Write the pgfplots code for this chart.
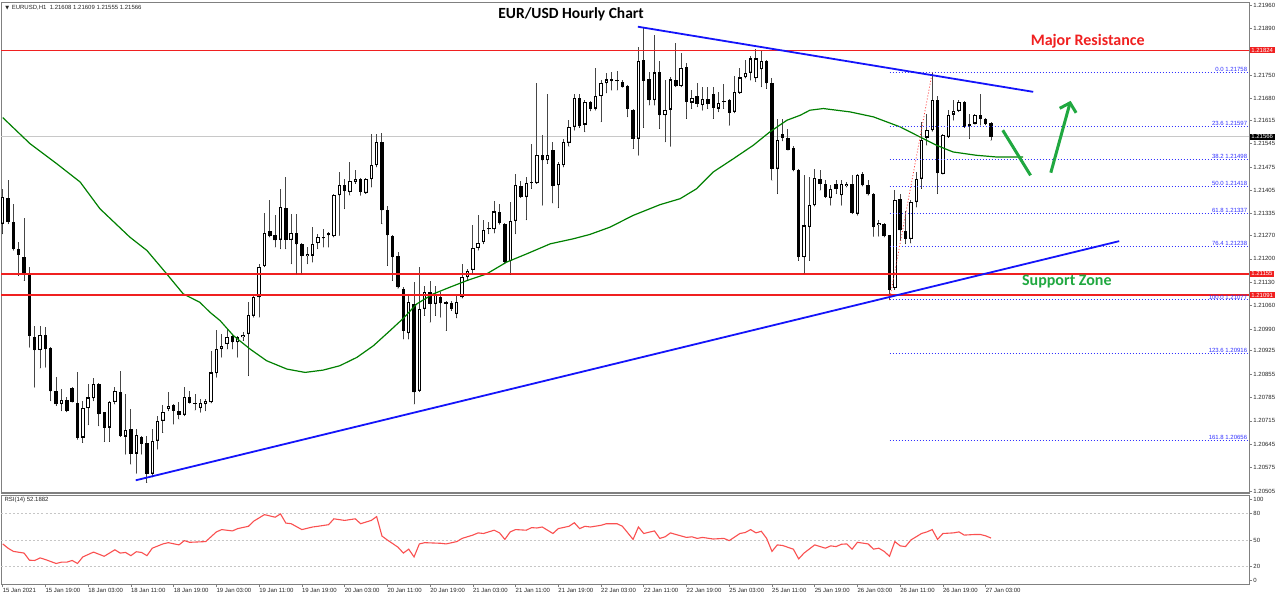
\documentclass[border=0pt]{standalone}
\usepackage{fontspec}
\setmainfont{Liberation Sans}
\newfontfamily\calibrifont{Carlito}
\newfontfamily\dejavu{DejaVu Sans}
\usepackage{pgfplots}
\pgfplotsset{compat=1.18}
\usepackage{pgfplotstable}
\usetikzlibrary{arrows.meta}

\definecolor{mtred}{RGB}{240,32,32}
\definecolor{trendblue}{RGB}{20,20,250}
\definecolor{fibblue}{RGB}{50,50,255}
\definecolor{magreen}{RGB}{0,128,0}
\definecolor{arrowgreen}{RGB}{32,168,64}
\definecolor{rsired}{RGB}{250,80,80}
\definecolor{framegray}{RGB}{128,128,128}
\definecolor{curgray}{RGB}{200,200,200}
\definecolor{wickgray}{RGB}{70,70,70}

\newcommand{\tinyfont}{\fontsize{6}{7}\selectfont}
\pgfplotsset{candle/.style={only marks, mark=*, mark size=0.01pt, mark options={draw=none, fill=none}, forget plot}}

\pgfplotstableread{
i o h l c
0 1.21305 1.21410 1.21275 1.21385
7 1.20927 1.21000 1.20873 1.20972
11 1.20765 1.20810 1.20745 1.20777
15 1.20665 1.20775 1.20650 1.20753
16 1.20752 1.20825 1.20703 1.20785
17 1.20782 1.20843 1.20775 1.20825
20 1.20695 1.20775 1.20653 1.20772
21 1.20772 1.20815 1.20765 1.20805
23 1.20668 1.20795 1.20615 1.20688
25 1.20617 1.20690 1.20558 1.20673
28 1.20557 1.20690 1.20547 1.20655
29 1.20655 1.20730 1.20630 1.20715
30 1.20715 1.20762 1.20680 1.20742
31 1.20750 1.20800 1.20745 1.20760
34 1.20733 1.20815 1.20730 1.20787
37 1.20753 1.20780 1.20740 1.20768
38 1.20765 1.20780 1.20745 1.20775
39 1.20770 1.20925 1.20768 1.20860
40 1.20857 1.20987 1.20845 1.20930
41 1.20930 1.20975 1.20905 1.20940
42 1.20945 1.20990 1.20930 1.20965
44 1.20950 1.20970 1.20905 1.20965
45 1.20965 1.20980 1.20955 1.20973
46 1.20975 1.21070 1.20850 1.21032
47 1.21030 1.21095 1.21025 1.21085
48 1.21085 1.21185 1.21025 1.21175
49 1.21178 1.21337 1.21176 1.21278
52 1.21257 1.21410 1.21230 1.21355
54 1.21257 1.21335 1.21185 1.21277
57 1.21208 1.21235 1.21185 1.21215
58 1.21210 1.21295 1.21190 1.21245
59 1.21247 1.21273 1.21230 1.21265
60 1.21261 1.21290 1.21235 1.21263
62 1.21267 1.21395 1.21265 1.21392
63 1.21390 1.21460 1.21270 1.21420
65 1.21400 1.21490 1.21390 1.21432
66 1.21430 1.21467 1.21425 1.21440
68 1.21398 1.21442 1.21395 1.21438
69 1.21438 1.21575 1.21415 1.21482
70 1.21480 1.21575 1.21475 1.21550
76 1.20977 1.21090 1.20960 1.21070
78 1.20805 1.21175 1.20802 1.21050
79 1.21050 1.21120 1.21030 1.21100
81 1.21065 1.21120 1.21030 1.21095
83 1.21066 1.21075 1.20985 1.21070
85 1.21035 1.21095 1.21023 1.21070
86 1.21085 1.21185 1.21082 1.21145
87 1.21145 1.21170 1.21135 1.21165
88 1.21167 1.21300 1.21155 1.21232
89 1.21233 1.21330 1.21225 1.21247
90 1.21250 1.21315 1.21245 1.21287
92 1.21288 1.21372 1.21277 1.21342
95 1.21193 1.21370 1.21153 1.21313
96 1.21313 1.21455 1.21275 1.21422
98 1.21385 1.21445 1.21317 1.21428
99 1.21427 1.21545 1.21410 1.21429
100 1.21427 1.21725 1.21425 1.21512
102 1.21495 1.21693 1.21485 1.21510
104 1.21420 1.21490 1.21353 1.21485
105 1.21480 1.21560 1.21475 1.21550
106 1.21548 1.21615 1.21537 1.21595
107 1.21595 1.21695 1.21585 1.21682
109 1.21602 1.21675 1.21580 1.21670
111 1.21650 1.21770 1.21645 1.21687
112 1.21687 1.21735 1.21610 1.21727
113 1.21725 1.21755 1.21697 1.21737
115 1.21732 1.21762 1.21705 1.21735
119 1.21560 1.21835 1.21510 1.21793
122 1.21675 1.21870 1.21660 1.21758
124 1.21630 1.21735 1.21550 1.21647
125 1.21647 1.21743 1.21537 1.21737
127 1.21717 1.21817 1.21715 1.21772
129 1.21668 1.21705 1.21650 1.21683
131 1.21660 1.21715 1.21645 1.21680
134 1.21650 1.21700 1.21640 1.21667
135 1.21670 1.21723 1.21650 1.21671
137 1.21640 1.21747 1.21637 1.21700
138 1.21697 1.21772 1.21695 1.21743
139 1.21743 1.21795 1.21741 1.21757
140 1.21757 1.21807 1.21735 1.21800
141 1.21740 1.21827 1.21730 1.21800
142 1.21767 1.21825 1.21715 1.21793
145 1.21470 1.21620 1.21395 1.21555
150 1.21205 1.21450 1.21155 1.21300
151 1.21295 1.21445 1.21195 1.21362
152 1.21360 1.21470 1.21358 1.21442
155 1.21383 1.21420 1.21360 1.21410
157 1.21390 1.21435 1.21360 1.21425
158 1.21418 1.21430 1.21415 1.21425
160 1.21335 1.21453 1.21330 1.21450
164 1.21300 1.21315 1.21267 1.21307
167 1.21112 1.21407 1.21108 1.21377
170 1.21260 1.21375 1.21247 1.21370
171 1.21370 1.21460 1.21355 1.21440
172 1.21440 1.21610 1.21410 1.21555
173 1.21563 1.21635 1.21540 1.21587
174 1.21585 1.21758 1.21582 1.21675
176 1.21455 1.21575 1.21453 1.21570
177 1.21565 1.21647 1.21563 1.21632
178 1.21632 1.21675 1.21615 1.21643
179 1.21643 1.21675 1.21640 1.21670
181 1.21597 1.21635 1.21560 1.21603
182 1.21605 1.21635 1.21603 1.21630
}\bull

\pgfplotstableread{
i o h l c
1 1.21383 1.21437 1.21305 1.21310
2 1.21310 1.21365 1.21225 1.21230
3 1.21228 1.21250 1.21150 1.21213
4 1.21205 1.21323 1.21135 1.21155
5 1.21155 1.21175 1.20935 1.20970
6 1.20967 1.21000 1.20815 1.20927
8 1.20972 1.20995 1.20875 1.20930
9 1.20932 1.20935 1.20775 1.20803
10 1.20803 1.20845 1.20760 1.20765
12 1.20777 1.20785 1.20742 1.20745
13 1.20812 1.20815 1.20770 1.20772
14 1.20767 1.20860 1.20660 1.20665
18 1.20825 1.20828 1.20700 1.20735
19 1.20740 1.20742 1.20653 1.20695
22 1.20802 1.20865 1.20668 1.20670
24 1.20690 1.20750 1.20585 1.20617
26 1.20667 1.20670 1.20615 1.20647
27 1.20650 1.20670 1.20530 1.20557
32 1.20762 1.20765 1.20705 1.20745
33 1.20745 1.20770 1.20720 1.20733
35 1.20787 1.20805 1.20767 1.20769
36 1.20767 1.20795 1.20747 1.20766
43 1.20970 1.20975 1.20930 1.20950
50 1.21283 1.21375 1.21265 1.21267
51 1.21270 1.21330 1.21235 1.21255
53 1.21353 1.21445 1.21230 1.21257
55 1.21277 1.21335 1.21155 1.21243
56 1.21245 1.21248 1.21155 1.21208
61 1.21277 1.21280 1.21235 1.21270
64 1.21420 1.21440 1.21350 1.21403
67 1.21440 1.21443 1.21390 1.21400
71 1.21550 1.21578 1.21305 1.21345
72 1.21347 1.21357 1.21180 1.21270
73 1.21268 1.21272 1.21135 1.21205
74 1.21210 1.21220 1.21112 1.21115
75 1.21110 1.21115 1.20960 1.20985
77 1.21065 1.21130 1.20765 1.20800
80 1.21100 1.21135 1.21010 1.21065
82 1.21087 1.21100 1.21025 1.21067
84 1.21067 1.21075 1.21045 1.21050
91 1.21291 1.21310 1.21275 1.21289
93 1.21340 1.21365 1.21303 1.21307
94 1.21305 1.21308 1.21185 1.21190
97 1.21418 1.21432 1.21383 1.21385
101 1.21510 1.21570 1.21360 1.21495
103 1.21525 1.21550 1.21367 1.21418
108 1.21682 1.21695 1.21593 1.21597
110 1.21670 1.21673 1.21643 1.21650
114 1.21737 1.21760 1.21705 1.21732
116 1.21730 1.21735 1.21713 1.21715
117 1.21717 1.21720 1.21625 1.21650
118 1.21647 1.21650 1.21530 1.21560
120 1.21795 1.21893 1.21593 1.21733
121 1.21737 1.21760 1.21660 1.21675
123 1.21758 1.21793 1.21590 1.21630
126 1.21735 1.21845 1.21715 1.21717
128 1.21775 1.21787 1.21620 1.21670
130 1.21687 1.21725 1.21655 1.21665
132 1.21678 1.21715 1.21650 1.21665
133 1.21695 1.21715 1.21620 1.21653
136 1.21675 1.21678 1.21600 1.21637
143 1.21793 1.21796 1.21710 1.21725
144 1.21725 1.21740 1.21435 1.21470
146 1.21573 1.21620 1.21553 1.21563
147 1.21563 1.21590 1.21525 1.21527
148 1.21533 1.21537 1.21463 1.21465
149 1.21467 1.21470 1.21195 1.21205
153 1.21440 1.21465 1.21405 1.21425
154 1.21425 1.21437 1.21383 1.21385
156 1.21425 1.21435 1.21395 1.21410
159 1.21425 1.21450 1.21335 1.21338
161 1.21453 1.21460 1.21418 1.21420
162 1.21420 1.21435 1.21390 1.21393
163 1.21395 1.21398 1.21267 1.21295
165 1.21303 1.21307 1.21265 1.21267
166 1.21270 1.21272 1.21077 1.21107
168 1.21380 1.21395 1.21255 1.21285
169 1.21283 1.21343 1.21245 1.21260
175 1.21675 1.21687 1.21395 1.21457
180 1.21670 1.21673 1.21593 1.21595
183 1.21630 1.21693 1.21600 1.21620
184 1.21620 1.21623 1.21601 1.21603
185 1.21608 1.21609 1.21555 1.21566
}\bear

\begin{document}
\begin{tikzpicture}
\path[use as bounding box, fill=white] (0,0) rectangle (1280pt,599pt);

% ---------------- main price panel ----------------
\begin{axis}[
  at={(1.5pt,106pt)}, anchor=south west,
  width=1247.5pt, height=491pt, scale only axis,
  xmin=-0.225, xmax=233.3, ymin=1.20499, ymax=1.21969,
  axis line style={framegray, line width=0.8pt},
  xtick=\empty,
  ytick={1.20505,1.20575,1.20645,1.20715,1.20785,1.20855,1.20925,1.20990,1.21060,1.21130,1.21200,1.21270,1.21335,1.21405,1.21475,1.21545,1.21615,1.21680,1.21750,1.21890,1.21960},
  yticklabels={1.20505,1.20575,1.20645,1.20715,1.20785,1.20855,1.20925,1.20990,1.21060,1.21130,1.21200,1.21270,1.21335,1.21405,1.21475,1.21545,1.21615,1.21680,1.21750,1.21890,1.21960},
  scaled y ticks=false,
  ytick pos=right, yticklabel pos=right,
  tick align=outside, major tick length=3pt,
  tick style={framegray, line width=0.6pt},
  yticklabel style={font=\tinyfont, text=black!85, inner xsep=1.2pt},
  clip=false,
]
% current price line
\addplot[curgray, line width=0.8pt] coordinates {(-0.225,1.21566) (233.3,1.21566)};

% wicks
\addplot[candle, error bars/.cd, y dir=plus, y explicit, error mark=none,
  error bar style={draw=wickgray, line width=1pt}]
  table[x=i, y=l, y error expr=\thisrow{h}-\thisrow{l}] {\bull};
\addplot[candle, error bars/.cd, y dir=plus, y explicit, error mark=none,
  error bar style={draw=wickgray, line width=1pt}]
  table[x=i, y=l, y error expr=\thisrow{h}-\thisrow{l}] {\bear};
% bodies
\addplot[candle, error bars/.cd, y dir=plus, y explicit, error mark=none,
  error bar style={draw=black, line width=3.4pt}]
  table[x=i, y=o, y error expr={max(\thisrow{c}-\thisrow{o},0.00003)}] {\bull};
\addplot[candle, error bars/.cd, y dir=plus, y explicit, error mark=none,
  error bar style={draw=black, line width=3.4pt}]
  table[x=i, y=c, y error expr={max(\thisrow{o}-\thisrow{c},0.00003)}] {\bear};
% hollow interiors of bullish candles
\addplot[candle, error bars/.cd, y dir=plus, y explicit, error mark=none,
  error bar style={draw=white, line width=1.4pt}]
  table[x=i, y expr=\thisrow{o}+0.000033, y error expr={max(\thisrow{c}-\thisrow{o}-0.000066,0)}] {\bull};

% moving average
\addplot[magreen, line width=1.2pt] coordinates {
(0,1.21623) (5.1,1.21545) (10.1,1.21485) (14.5,1.21430) (18.2,1.21350) (23.8,1.21265)
(27,1.21225) (30.7,1.21155) (33.8,1.21095) (36.9,1.21070) (38.8,1.21040) (40.7,1.21015)
(43.2,1.20970) (46.3,1.20930) (49.4,1.20895) (53.2,1.20870) (56.6,1.20860) (60,1.20867)
(63.1,1.20880) (66.3,1.20905) (69.4,1.20940) (72.5,1.20985) (75,1.21022) (77.5,1.21065)
(80.6,1.21095) (83.7,1.21115) (86.9,1.21135) (90.6,1.21155) (94.3,1.21190) (98.1,1.21215)
(102.5,1.21245) (106.8,1.21260) (109.9,1.21273) (113.7,1.21295) (118,1.21330) (123,1.21362)
(126.8,1.21380) (129.9,1.21410) (133,1.21460) (136.8,1.21500) (140.5,1.21540) (143.6,1.21580)
(146.8,1.21615) (149.3,1.21630) (151.1,1.21645) (153.6,1.21650) (158.6,1.21640) (163,1.21625)
(168,1.21595) (171.7,1.21565) (174.8,1.21540) (177.9,1.21520) (182.3,1.21510) (186,1.21505) (191,1.21505)};

% horizontal levels
\addplot[mtred, line width=1.8pt] coordinates {(-0.225,1.21824) (233.3,1.21824)};
\addplot[mtred, line width=1.8pt] coordinates {(-0.225,1.21155) (233.3,1.21155)};
\addplot[mtred, line width=1.8pt] coordinates {(-0.225,1.21091) (233.3,1.21091)};

% fibonacci levels
\foreach \lev/\lab in {1.21758/0.0, 1.21597/23.6, 1.21498/38.2, 1.21418/50.0, 1.21337/61.8, 1.21238/76.4, 1.21077/100.0, 1.20916/123.6, 1.20656/161.8}{
  \edef\tmp{\noexpand\addplot[fibblue, line width=0.9pt, dash pattern=on 1pt off 2pt] coordinates {(166,\lev) (233.3,\lev)};}
  \tmp
  \edef\tmp{\noexpand\node[anchor=south east, font=\noexpand\tinyfont, text=fibblue, inner sep=0.6pt] at (axis cs:233.1,\lev) {\lab\space\lev};}
  \tmp
}
% fib anchor line
\addplot[red!75, line width=0.8pt, dash pattern=on 1pt off 2pt] coordinates {(166,1.21077) (174,1.21758)};

% trend lines
\addplot[trendblue, line width=1.8pt] coordinates {(24.9,1.20537) (209.0,1.21253)};
\addplot[trendblue, line width=1.8pt] coordinates {(118.9,1.21895) (192.9,1.21700)};

% arrows
\addplot[arrowgreen, line width=3pt] coordinates {(187.2,1.21585) (192.4,1.21450)};
\addplot[arrowgreen, line width=3pt, -{Straight Barb[length=8pt,width=17pt]}] coordinates {(196.2,1.21458) (199.9,1.21673)};

% texts
\node[anchor=base, font=\calibrifont\bfseries\fontsize{15.5}{18}\selectfont] at (axis cs:106.4,1.21921) {EUR/USD Hourly Chart};
\node[anchor=base, text=mtred, font=\calibrifont\bfseries\fontsize{16}{19}\selectfont] at (axis cs:203.1,1.21839) {Major Resistance};
\node[anchor=base, text=arrowgreen, font=\calibrifont\bfseries\fontsize{16}{19}\selectfont] at (axis cs:199.2,1.21120) {Support Zone};
\node[anchor=west, font=\tinyfont, text=black!85, inner sep=0pt] at (axis cs:0.45,1.21953) {{\dejavu\fontsize{5}{6}\selectfont ▼}\ \,EURUSD,H1\ \ 1.21608 1.21609 1.21555 1.21566};

% price boxes on the scale
\node[anchor=west, fill=mtred, text=white, font=\tinyfont, inner xsep=1.5pt, inner ysep=0.8pt, xshift=0.6pt] at (axis cs:233.3,1.21824) {1.21824};
\node[anchor=west, fill=black, text=white, font=\tinyfont, inner xsep=1.5pt, inner ysep=0.8pt, xshift=0.6pt] at (axis cs:233.3,1.21566) {1.21566};
\node[anchor=west, fill=mtred, text=white, font=\tinyfont, inner xsep=1.5pt, inner ysep=0.8pt, xshift=0.6pt] at (axis cs:233.3,1.21155) {1.21155};
\node[anchor=west, fill=mtred, text=white, font=\tinyfont, inner xsep=1.5pt, inner ysep=0.8pt, xshift=0.6pt] at (axis cs:233.3,1.21091) {1.21091};

\draw[framegray, line width=2.4pt] (rel axis cs:0,0) -- (rel axis cs:1,0);
\end{axis}

% ---------------- RSI panel ----------------
\begin{axis}[
  at={(1.5pt,14.5pt)}, anchor=south west,
  width=1247.5pt, height=89pt, scale only axis,
  xmin=-0.225, xmax=233.3, ymin=0, ymax=100,
  axis line style={framegray, line width=0.8pt},
  xtick={0,8,...,184},
  xticklabels={15 Jan 2021,15 Jan 19:00,18 Jan 03:00,18 Jan 11:00,18 Jan 19:00,19 Jan 03:00,19 Jan 11:00,19 Jan 19:00,20 Jan 03:00,20 Jan 11:00,20 Jan 19:00,21 Jan 03:00,21 Jan 11:00,21 Jan 19:00,22 Jan 03:00,22 Jan 11:00,22 Jan 19:00,25 Jan 03:00,25 Jan 11:00,25 Jan 19:00,26 Jan 03:00,26 Jan 11:00,26 Jan 19:00,27 Jan 03:00},
  xtick pos=bottom,
  xticklabel style={font=\tinyfont, text=black!85, anchor=north west, inner sep=1pt, xshift=-1pt},
  ytick={4.5,20,50,80,95.5}, yticklabels={0,20,50,80,100},
  ytick pos=right, yticklabel pos=right,
  yticklabel style={font=\tinyfont, text=black!85, inner xsep=1.2pt},
  tick align=outside, major tick length=3pt,
  tick style={framegray, line width=0.6pt},
  clip=false,
]
\addplot[gray!45, line width=0.8pt, dash pattern=on 2pt off 2pt] coordinates {(-0.225,20) (233.3,20)};
\addplot[gray!45, line width=0.8pt, dash pattern=on 2pt off 2pt] coordinates {(-0.225,50) (233.3,50)};
\addplot[gray!45, line width=0.8pt, dash pattern=on 2pt off 2pt] coordinates {(-0.225,80) (233.3,80)};
\addplot[rsired, line width=1.1pt] coordinates {
(0,45.6) (1,40.8) (2,37.2) (4,35.3) (5,27.3) (6,27) (7,29.9) (8,28) (10,23.6) (11,25.1) (12,25.1)
(13,27) (14,23.6) (15,31) (17,36.4) (19,31.7) (21,39) (22,35.3) (23,36) (24,32.4) (25,36.8)
(26,36) (27,32.4) (28,40.8) (30,45.6) (31,47) (33,44.5) (34,49.3) (35,47.4) (38,48.2) (40,59.1)
(41,61.7) (43,60.2) (44,62.8) (46,65.4) (47,71.2) (49,78.5) (51,75.6) (52,79.3) (53,69) (54,68.3)
(56,61.7) (58,64.6) (59,65.4) (61,67.2) (62,73.8) (64,72) (66,73.8) (67,68.3) (69,72) (70,76.3)
(71,54.4) (72,50) (74,41.9) (75,35.3) (76,39.7) (77,31) (78,45.6) (79,47) (82,46.3) (83,45.6)
(85,48.2) (86,51.8) (88,55.5) (89,58) (90,57.3) (92,61) (93,58) (94,50.7) (95,59.1) (96,61.7)
(98,61) (99,63.9) (100,63.5) (101,64.6) (103,57.3) (104,62.8) (106,65.4) (107,69.4) (108,62.8)
(109,65.4) (110,64.6) (112,66.5) (113,68.3) (115,68.3) (116,65.4) (118,50.7) (119,64.6) (120,57.3)
(122,60.2) (123,51.8) (124,53.6) (125,58) (126,56.2) (128,52.9) (129,53.6) (130,51.8) (131,52.9)
(133,51.1) (135,51.8) (136,49.3) (138,57.3) (139,58.4) (140,61.7) (141,58) (142,59.8) (143,51.8)
(144,37.2) (145,44.5) (146,43.8) (148,39.7) (149,28.8) (150,35.3) (152,44.5) (154,40.8) (155,43.4)
(156,42.6) (157,45.2) (158,45.6) (159,39.7) (160,47.4) (162,45.6) (163,39.7) (164,40.8) (165,37.2)
(166,31.7) (167,48.2) (168,43.4) (169,42.6) (170,50) (172,57.3) (173,59.1) (174,61.7) (175,50.7)
(176,57.3) (178,58) (179,59.1) (180,55.5) (182,56.2) (183,56.2) (184,54.7) (185,52.2)};
\node[anchor=west, font=\tinyfont, text=black!85, inner sep=0pt] at (axis cs:0.3,95) {RSI(14) 52.1882};
\end{axis}
\end{tikzpicture}
\end{document}
